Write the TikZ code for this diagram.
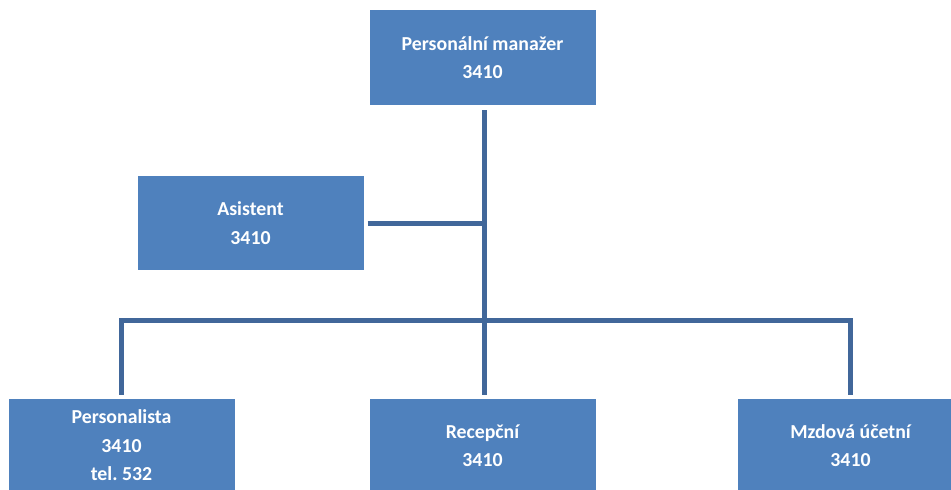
\documentclass[tikz,border=0pt]{standalone}
\usepackage{fontspec}
\setmainfont{Carlito}
\definecolor{boxblue}{HTML}{4F81BD}
\definecolor{linkblue}{HTML}{41679A}
\begin{document}
\begin{tikzpicture}[x=1pt,y=-1pt,
  unit/.style={fill=boxblue, draw=none, text=white, align=center,
    minimum width=226pt, minimum height=94pt, inner sep=0pt,
    font=\fontsize{19.8}{28.5}\selectfont\bfseries},
  link/.style={draw=linkblue, line width=5pt, line join=miter}]
\useasboundingbox (0,0) rectangle (951,490);
\node[unit, minimum height=95pt] (top)   at (482.5,57.5) {Personální manažer\\3410};
\node[unit]                      (asst)  at (250.5,223)  {Asistent\\3410};
\node[unit, minimum height=93pt] (pers)  at (121.5,445.5) {Personalista\\3410\\tel.\ 532};
\node[unit, minimum height=93pt] (recep) at (482.5,445.5) {Recepční\\3410};
\node[unit, minimum height=93pt] (mzd)   at (850.5,445.5) {Mzdová účetní\\3410};
\coordinate (bus) at (484,320);
% trunk from the manager down to reception
\draw[link, shorten <=5pt, shorten >=4pt] (top.south -| bus) -- (recep.north -| bus);
% assistant branch
\draw[link, shorten <=4pt] (asst.east) -- (asst.east -| bus);
% horizontal bus with drops to the outer units
\draw[link, shorten <=4pt, shorten >=4pt] (pers.north) -- (pers.north |- bus) -| (mzd.north);
\end{tikzpicture}
\end{document}
